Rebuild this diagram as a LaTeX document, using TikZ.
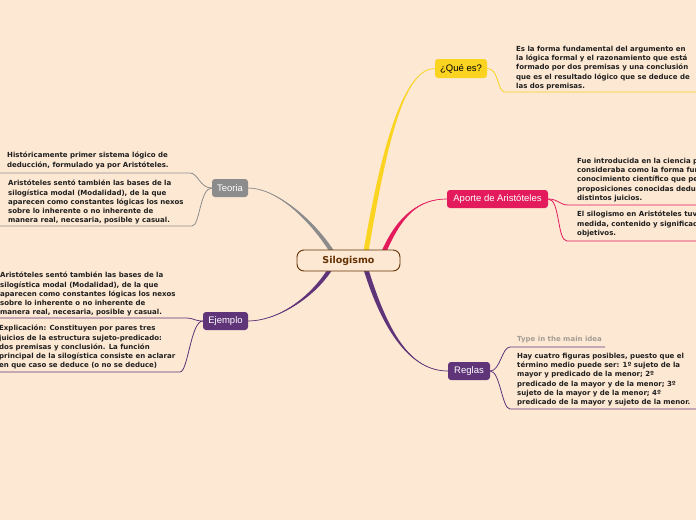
\documentclass[tikz,border=0pt]{standalone}
\usepackage{fontspec}
\setmainfont{Liberation Sans}
\newfontfamily\notefont{DejaVu Sans}
\usepackage{xcolor}
\definecolor{bgpeach}{RGB}{253,232,211}
\definecolor{myyellow}{RGB}{250,212,32}
\definecolor{mypink}{RGB}{227,27,93}
\definecolor{mypurple}{RGB}{95,52,121}
\definecolor{mygray}{RGB}{140,140,140}
\definecolor{mybrown}{RGB}{100,50,5}
\definecolor{hintgray}{RGB}{165,157,149}
\usetikzlibrary{calc, backgrounds}

% tapered main branch: colour, start, control 1, control 2, end
\newcommand{\mmbranch}[5]{%
  \fill[#1] ($(#2)+(-2.5,0)$) .. controls +#3 and +#4 .. (#5)
        .. controls +#4 and +#3 .. ($(#2)+(2.5,0)$) -- cycle;
  \draw[#1, line width=0.7pt] (#2) .. controls +#3 and +#4 .. (#5);}

\begin{document}
\begin{tikzpicture}[
  x=1pt, y=-1pt,
  central/.style={rectangle, rounded corners=7pt, draw=mybrown,
                  line width=0.9pt, fill=bgpeach, text=mybrown,
                  minimum width=103pt, minimum height=21pt, inner sep=0pt,
                  font=\notefont\bfseries\fontsize{9.5}{11}\selectfont},
  topic/.style={rectangle, rounded corners=3pt, fill=#1, text=white,
                minimum height=18pt, inner sep=0pt,
                font=\fontsize{9.5}{11}\selectfont},
  note/.style={anchor=north west, inner sep=0pt, align=left,
               text=black!88,
               font=\notefont\bfseries\fontsize{7}{9.2}\selectfont},
  twig/.style={#1, line width=0.8pt},
]
\useasboundingbox (0,0) rectangle (696,520);

%% --- nodo central y temas ---
\node[central] (silo) at (348.5,260.5) {Silogismo};
\node[topic=myyellow, text=black, minimum width=52pt, minimum height=19pt]
  (que) at (461,68.5) {¿Qué es?};
\node[topic=mypink, minimum width=101pt] (apo) at (497.5,199) {Aporte de Aristóteles};
\node[topic=mypurple, minimum width=42pt] (reg) at (469,371) {Reglas};
\node[topic=mygray, minimum width=36pt] (teo) at (230,188) {Teoria};
\node[topic=mypurple, minimum width=45pt] (eje) at (225.5,321) {Ejemplo};

%% --- textos ---
\node[note] (que1) at (516,46)
  {Es la forma fundamental del argumento en\\
   la lógica formal y el razonamiento que está\\
   formado por dos premisas y una conclusión\\
   que es el resultado lógico que se deduce de\\
   las dos premisas.};
\node[note] (apo1) at (577,158)
  {Fue introducida en la ciencia p\\
   consideraba como la forma fun\\
   conocimiento científico que pe\\
   proposiciones conocidas deduc\\
   distintos juicios.};
\node[note] (apo2) at (577,211)
  {El silogismo en Aristóteles tuv\\
   medida, contenido y significad\\
   objetivos.};
\node[note, text=hintgray] (reg1) at (517,336) {Type in the main idea};
\node[note] (reg2) at (517,353)
  {Hay cuatro figuras posibles, puesto que el\\
   término medio puede ser: 1º sujeto de la\\
   mayor y predicado de la menor; 2º\\
   predicado de la mayor y de la menor; 3º\\
   sujeto de la mayor y de la menor; 4º\\
   predicado de la mayor y sujeto de la menor.};
\node[note] (teo1) at (7,152)
  {Históricamente primer sistema lógico de\\
   deducción, formulado ya por Aristóteles.};
\node[note] (teo2) at (8,180)
  {Aristóteles sentó también las bases de la\\
   silogística modal (Modalidad), de la que\\
   aparecen como constantes lógicas los nexos\\
   sobre lo inherente o no inherente de\\
   manera real, necesaria, posible y casual.};
\node[note] (eje1) at (0,272)
  {Aristóteles sentó también las bases de la\\
   silogística modal (Modalidad), de la que\\
   aparecen como constantes lógicas los nexos\\
   sobre lo inherente o no inherente de\\
   manera real, necesaria, posible y casual.};
\node[note] (eje2) at (-1,325)
  {Explicación: Constituyen por pares tres\\
   juicios de la estructura sujeto-predicado:\\
   dos premisas y conclusión. La función\\
   principal de la silogística consiste en aclarar\\
   en que caso se deduce (o no se deduce)};

%% --- puntos de las ramas ---
\coordinate (sgray) at ($(silo.north)+(-16.5,2)$);
\coordinate (syel)  at ($(silo.north)+(17.5,2)$);
\coordinate (spink) at ($(silo.north)+(35.5,2)$);
\coordinate (seje)  at ($(silo.south)+(-18.5,-2)$);
\coordinate (sreg)  at ($(silo.south)+(17.5,-2)$);

\coordinate (q1a) at (505,92);   \coordinate (q1b) at (696,92);
\coordinate (a1a) at (568,205);  \coordinate (a1b) at (696,205);
\coordinate (a2a) at (567,241);  \coordinate (a2b) at (696,241);
\coordinate (r1a) at (510,347);  \coordinate (r1b) at (605,347);
\coordinate (r2a) at (510,409);  \coordinate (r2b) at (696,409);
\coordinate (t1a) at (190,173);  \coordinate (t1b) at (0,173);
\coordinate (t2a) at (192,226);  \coordinate (t2b) at (0,226);
\coordinate (e1a) at (187,318);  \coordinate (e1b) at (0,318);
\coordinate (e2a) at (180,372);  \coordinate (e2b) at (0,372);

\begin{pgfonlayer}{background}
  \fill[bgpeach] (0,0) rectangle (696,520);
  %% --- ramas principales ---
  \mmbranch{mygray}{sgray}{(-22,-34)}{(27,0)}{teo.east}
  \mmbranch{myyellow}{syel}{(19,-112)}{(-30,0)}{que.west}
  \mmbranch{mypink}{spink}{(16,-37)}{(-27,0)}{apo.west}
  \mmbranch{mypurple}{seje}{(-20,31)}{(27,0)}{eje.east}
  \mmbranch{mypurple}{sreg}{(19,61)}{(-38,0)}{reg.west}
  %% --- subramas ---
  \draw[twig=myyellow] (que.east) .. controls +(12,0) and +(-8,0) .. (q1a) -- (q1b);
  \draw[twig=mypink] (apo.east) .. controls +(10,0) and +(-8,0) .. (a1a) -- (a1b);
  \draw[twig=mypink] (apo.east) .. controls +(12,0) and +(-10,0) .. (a2a) -- (a2b);
  \draw[twig=mypurple] (reg.east) .. controls +(10,0) and +(-8,0) .. (r1a) -- (r1b);
  \draw[twig=mypurple] (reg.east) .. controls +(10,0) and +(-8,0) .. (r2a) -- (r2b);
  \draw[twig=mygray] (teo.west) .. controls +(-12,0) and +(8,0) .. (t1a) -- (t1b);
  \draw[twig=mygray] (teo.west) .. controls +(-12,0) and +(8,0) .. (t2a) -- (t2b);
  \draw[twig=mypurple] (eje.west) .. controls +(-8,0) and +(6,0) .. (e1a) -- (e1b);
  \draw[twig=mypurple] (eje.west) .. controls +(-12,0) and +(8,0) .. (e2a) -- (e2b);
\end{pgfonlayer}
\end{tikzpicture}
\end{document}
